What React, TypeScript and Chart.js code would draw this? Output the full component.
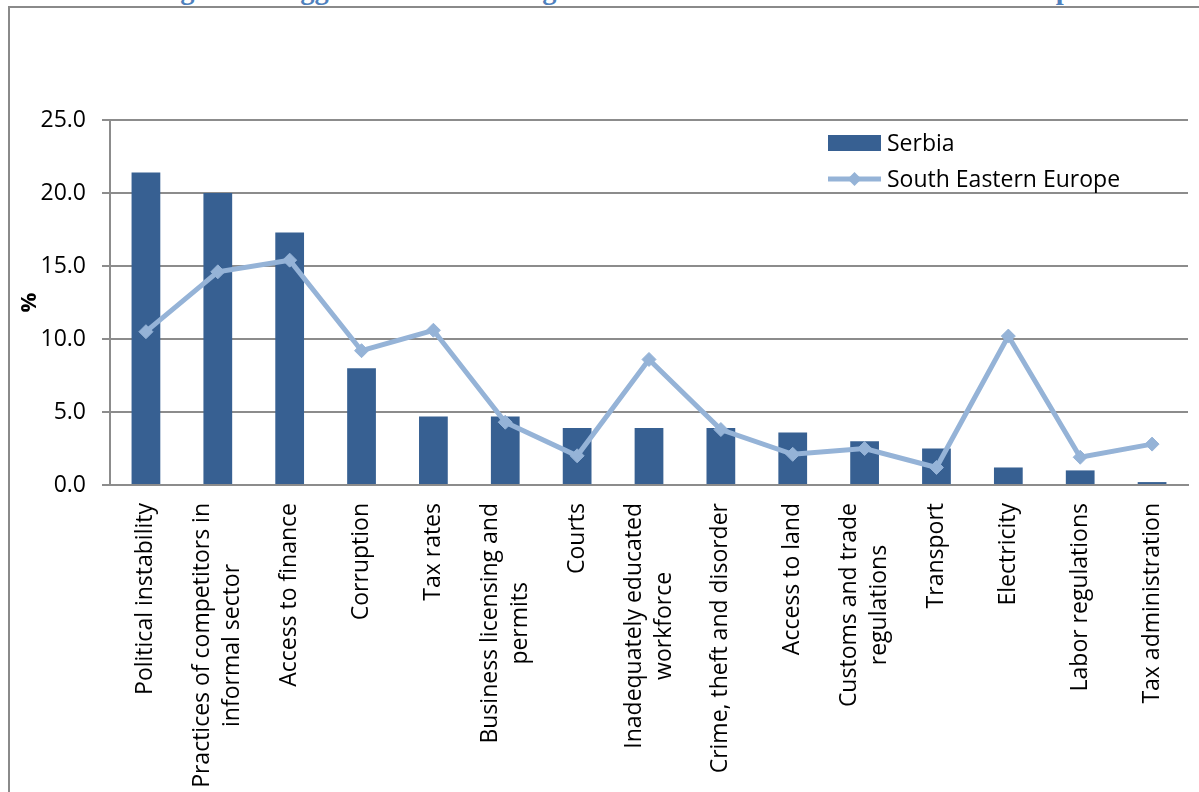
import React, { useEffect, useRef } from "react";
import { Chart, registerables } from "chart.js";

Chart.register(...registerables);

const categories: string[][] = [
  ["Political instability"],
  ["Practices of competitors in", "informal sector"],
  ["Access to finance"],
  ["Corruption"],
  ["Tax rates"],
  ["Business licensing and", "permits"],
  ["Courts"],
  ["Inadequately educated", "workforce"],
  ["Crime, theft and disorder"],
  ["Access to land"],
  ["Customs and trade", "regulations"],
  ["Transport"],
  ["Electricity"],
  ["Labor regulations"],
  ["Tax administration"],
];

const serbia: number[] = [21.4, 20.0, 17.3, 8.0, 4.7, 4.7, 3.9, 3.9, 3.9, 3.6, 3.0, 2.5, 1.2, 1.0, 0.2];
const southEasternEurope: number[] = [10.5, 14.6, 15.4, 9.2, 10.6, 4.3, 2.0, 8.6, 3.8, 2.1, 2.5, 1.2, 10.2, 1.9, 2.8];

const seriesNames = ["Serbia", "South Eastern Europe"];
const yTicks: number[] = [0, 5, 10, 15, 20, 25];
const yAxisTitle = "%";
const titleText = "Figure 4: Biggest Obstacle facing Firms in Serbia and South Eastern Europe";

const FONT = "'Open Sans', 'Noto Sans', sans-serif";
const BAR = "#376092";
const LINE = "#95b3d7";
const GRID = "#8c8c8c";

const xLabelsPlugin = {
  id: "xLabelsRot",
  afterDraw(chart: any) {
    const ctx = chart.ctx;
    const xs = chart.scales.x;
    const top = chart.chartArea.bottom + 18;
    const lh = 30;
    ctx.save();
    ctx.font = `23px ${FONT}`;
    ctx.fillStyle = "#000";
    ctx.textBaseline = "middle";
    ctx.textAlign = "center";
    categories.forEach((lines, i) => {
      const x = xs.getPixelForValue(i);
      const wmax = Math.max(...lines.map((l) => ctx.measureText(l).width));
      ctx.save();
      ctx.translate(x, top);
      ctx.rotate(-Math.PI / 2);
      lines.forEach((l, k) => {
        const off = (k - (lines.length - 1) / 2) * lh;
        ctx.fillText(l, -wmax / 2, off);
      });
      ctx.restore();
    });
    ctx.restore();
  },
};

const legendPlugin = {
  id: "innerLegend",
  afterDraw(chart: any) {
    const ctx = chart.ctx;
    const ca = chart.chartArea;
    const x0 = ca.right - 360;
    const y1 = ca.top + 23;
    const y2 = ca.top + 59;
    ctx.save();
    ctx.fillStyle = BAR;
    ctx.fillRect(x0, y1 - 8, 53, 16);
    ctx.strokeStyle = LINE;
    ctx.lineWidth = 5;
    ctx.beginPath();
    ctx.moveTo(x0, y2);
    ctx.lineTo(x0 + 53, y2);
    ctx.stroke();
    ctx.fillStyle = LINE;
    ctx.beginPath();
    const cx = x0 + 26.5;
    const r = 7;
    ctx.moveTo(cx, y2 - r);
    ctx.lineTo(cx + r, y2);
    ctx.lineTo(cx, y2 + r);
    ctx.lineTo(cx - r, y2);
    ctx.closePath();
    ctx.fill();
    ctx.fillStyle = "#000";
    ctx.font = `23px ${FONT}`;
    ctx.textBaseline = "middle";
    ctx.textAlign = "left";
    ctx.fillText(seriesNames[0], x0 + 59, y1 + 1);
    ctx.fillText(seriesNames[1], x0 + 59, y2 + 1);
    ctx.restore();
  },
};

export default function App() {
  const ref = useRef<HTMLCanvasElement | null>(null);

  useEffect(() => {
    if (!ref.current) return;
    const chart = new Chart(ref.current, {
      data: {
        labels: categories.map((c) => c.join(" ")),
        datasets: [
          {
            type: "line",
            label: seriesNames[1],
            data: southEasternEurope,
            borderColor: LINE,
            backgroundColor: LINE,
            borderWidth: 5,
            pointStyle: "rectRot",
            pointRadius: 7,
            pointBackgroundColor: LINE,
            pointBorderColor: LINE,
            pointBorderWidth: 1,
            tension: 0,
            order: 0,
          },
          {
            type: "bar",
            label: seriesNames[0],
            data: serbia,
            backgroundColor: BAR,
            borderWidth: 0,
            categoryPercentage: 1,
            barPercentage: 0.4,
            order: 1,
          },
        ] as any,
      },
      options: {
        responsive: false,
        animation: false,
        devicePixelRatio: 1,
        layout: { padding: { left: 0, right: 11, top: 120, bottom: 0 } },
        plugins: {
          legend: { display: false },
          tooltip: { enabled: false },
          title: { display: false },
        },
        scales: {
          x: {
            offset: true,
            grid: { display: false, drawTicks: false },
            border: { display: true, color: GRID, width: 2 },
            ticks: { display: false },
            afterFit: (s: any) => {
              s.height = 792 - 485;
            },
          },
          y: {
            min: 0,
            max: 25,
            afterBuildTicks: (s: any) => {
              s.ticks = yTicks.map((v) => ({ value: v }));
            },
            grid: { color: GRID, lineWidth: 2, tickLength: 8, drawTicks: true },
            border: { display: true, color: GRID, width: 2 },
            ticks: {
              color: "#000",
              font: { family: FONT, size: 23 },
              padding: 16,
              callback: (v: any) => Number(v).toFixed(1),
            },
            title: {
              display: true,
              text: yAxisTitle,
              color: "#000",
              font: { family: FONT, size: 22, weight: "bold" },
              padding: { top: 17, bottom: 0 },
            },
            afterFit: (s: any) => {
              s.width = 110;
            },
          },
        },
      },
      plugins: [xLabelsPlugin, legendPlugin],
    });
    return () => chart.destroy();
  }, []);

  return (
    <div
      style={{
        position: "fixed",
        left: 0,
        top: 0,
        width: 1199,
        height: 792,
        overflow: "hidden",
        background: "#fff",
      }}
    >
      <div
        style={{
          position: "absolute",
          left: 155,
          top: -25,
          fontFamily: "'Liberation Serif', 'DejaVu Serif', serif",
          fontWeight: "bold",
          fontSize: 28.5,
          lineHeight: "30px",
          color: "#4f81bd",
          whiteSpace: "nowrap",
        }}
      >
        {titleText}
      </div>
      <div
        style={{
          position: "absolute",
          left: 8,
          top: 6,
          width: 1300,
          height: 900,
          border: "2px solid #8a8a8a",
          boxSizing: "border-box",
        }}
      />
      <canvas
        ref={ref}
        width={1199}
        height={792}
        style={{ position: "absolute", left: 0, top: 0, width: 1199, height: 792 }}
      />
    </div>
  );
}
